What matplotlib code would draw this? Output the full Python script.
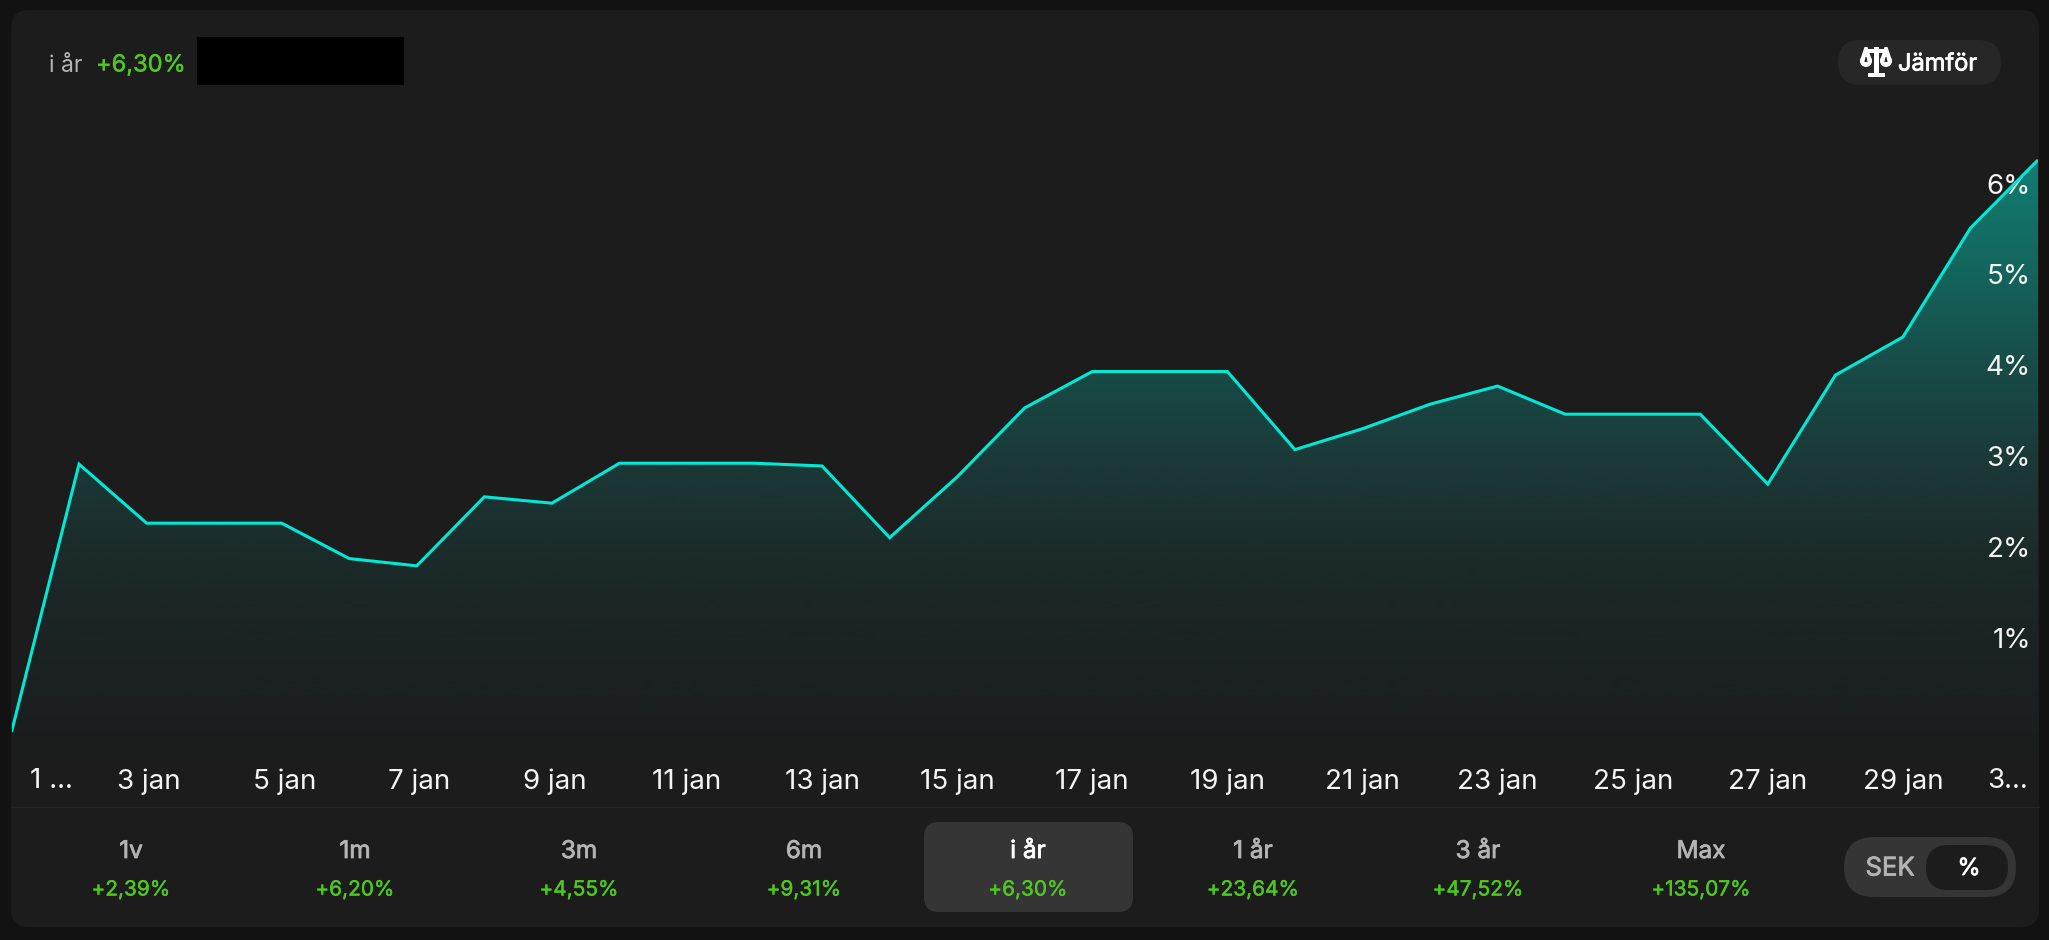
import numpy as np
import matplotlib
matplotlib.use("Agg")
import matplotlib.pyplot as plt
import matplotlib.patheffects as pe
from matplotlib.patches import FancyBboxPatch, Rectangle, Polygon, Circle
from matplotlib.transforms import ScaledTranslation

plt.rcParams['font.family'] = ['Inter', 'DejaVu Sans']

# ---- data ----
days = list(range(1, 32))
values = [0.00, 2.95, 2.30, 2.30, 2.30, 1.91, 1.83, 2.59, 2.52, 2.96, 2.96, 2.96, 2.93,
          2.14, 2.81, 3.57, 3.97, 3.97, 3.97, 3.11, 3.34, 3.61, 3.81, 3.50, 3.50, 3.50,
          2.73, 3.93, 4.35, 5.55, 6.30]
x_tick_days = [1, 3, 5, 7, 9, 11, 13, 15, 17, 19, 21, 23, 25, 27, 29, 31]
x_tick_labels = ["1 ...", "3 jan", "5 jan", "7 jan", "9 jan", "11 jan", "13 jan", "15 jan", "17 jan",
                 "19 jan", "21 jan", "23 jan", "25 jan", "27 jan", "29 jan", "3..."]
y_ticks = [1, 2, 3, 4, 5, 6]
y_tick_labels = ["1%", "2%", "3%", "4%", "5%", "6%"]
periods = ["1v", "1m", "3m", "6m", "i år", "1 år", "3 år", "Max"]
period_returns = ["+2,39%", "+6,20%", "+4,55%", "+9,31%", "+6,30%", "+23,64%", "+47,52%", "+135,07%"]
selected_period = "i år"
headline_label = "i år"
headline_return = "+6,30%"

# ---- style ----
W, H = 2049, 940
OUTER = "#121212"; PANEL = "#1c1c1c"; LINE = "#00e9d6"; GREEN = "#4ec91f"
GREY = "#b4b4b4"; WHITE = "#f4f4f4"

fig = plt.figure(figsize=(W / 100, H / 100), dpi=100, facecolor=OUTER)


def px_axes(left, top, right, bottom, **kw):
    return fig.add_axes([left / W, 1 - bottom / H, (right - left) / W, (bottom - top) / H], **kw)


ui = px_axes(0, 0, W, H, zorder=0)
ui.set_xlim(0, W); ui.set_ylim(H, 0); ui.axis("off")


def rrect(ax, x0, y0, x1, y1, r, color, z=1):
    ax.add_patch(FancyBboxPatch((x0 + r, y0 + r), x1 - x0 - 2 * r, y1 - y0 - 2 * r,
                                boxstyle=f"round,pad={r},rounding_size={r}",
                                fc=color, ec="none", zorder=z))


def bold_text(x, y, s, color, size, stroke=0.55, **kw):
    t = ui.text(x, y, s, color=color, fontsize=size, va="center", **kw)
    t.set_path_effects([pe.withStroke(linewidth=stroke, foreground=color)])
    return t


rrect(ui, 11, 10, 2039, 927, 18, PANEL)
ui.plot([11, 2039], [806.5, 806.5], color="#262626", lw=1, zorder=2)

# header
ui.text(49, 65.5, headline_label, color=GREY, fontsize=16.5, va="center", ha="left")
bold_text(96, 65.5, headline_return, GREEN, 17, stroke=0.3, ha="left")
ui.add_patch(Rectangle((197, 37), 207, 48, fc="black", ec="none", zorder=2))

# compare button
rrect(ui, 1838, 40, 2001, 85, 22.5, "#272727", 2)
bold_text(1898, 64.5, "Jämför", "white", 17, ha="left", zorder=3)
# scales icon
ic = dict(fc="white", ec="none", zorder=3)
ui.add_patch(Rectangle((1873.5, 47), 5, 28, **ic))
ui.add_patch(Rectangle((1868, 72.5), 16.5, 4.5, **ic))
ui.add_patch(Rectangle((1864, 48.5), 24, 4, **ic))
for cx in (1866, 1886):
    ui.add_patch(Polygon([(cx - 1.5, 47), (cx + 1.5, 47), (cx + 5.8, 60), (cx - 5.8, 60)], **ic))
    ui.add_patch(Circle((cx, 61), 6, **ic))
    ui.add_patch(Polygon([(cx - 0.5, 57), (cx + 0.5, 57), (cx + 1.6, 62), (cx - 1.6, 62)], fc="#272727", ec="none", zorder=3))

# period selector
col_x = [131, 355, 579, 804, 1028, 1253, 1478, 1701]
rrect(ui, 924, 822, 1133, 912, 15, "#353535", 2)
for cx, p, r in zip(col_x, periods, period_returns):
    sel = p == selected_period
    bold_text(cx, 851.5, p, "white" if sel else GREY, 17.5, ha="center", zorder=3)
    bold_text(cx, 889.5, r, GREEN, 15, stroke=0.3, ha="center", zorder=3)

# toggle
rrect(ui, 1844, 837, 2016, 897, 30, "#353535", 2)
rrect(ui, 1926, 845, 2008, 890, 22.5, "#1c1c1c", 3)
bold_text(1890, 869, "SEK", GREY, 18.5, ha="center", zorder=4)
bold_text(1969, 869, "%", "white", 17, ha="center", zorder=4)

# ---- chart ----
ZERO_Y, UNIT = 732.0, 90.8
TOP_Y, BOT_Y = 100.0, 760.0
ax = px_axes(11.5, TOP_Y, 2038, BOT_Y, zorder=1)
ax.patch.set_alpha(0)
ymax = (ZERO_Y - TOP_Y) / UNIT
ymin = (ZERO_Y - BOT_Y) / UNIT
ax.set_xlim(1, 31); ax.set_ylim(ymin, ymax)
for s in ax.spines.values():
    s.set_visible(False)

# gradient fill
stop_px = [100, 160, 275, 365, 456, 548, 640, 733, 765]
stop_rgb = np.array([(18, 135, 124), (17, 125, 115), (20, 100, 92), (24, 76, 72), (27, 58, 56),
                     (27, 44, 43), (27, 35, 35), (27, 30, 30), (28, 28, 28)]) / 255
py = np.arange(TOP_Y, BOT_Y + 1)
grad = np.stack([np.interp(py, stop_px, stop_rgb[:, i]) for i in range(3)], axis=1)[:, None, :]
im = ax.imshow(grad, extent=[1, 31, ymin, ymax], aspect="auto", origin="upper", zorder=1, interpolation="bilinear")
poly = ax.fill_between(days, values, ymin, color="none", lw=0)
im.set_clip_path(poly.get_paths()[0], transform=ax.transData)
ax.plot(days, values, color=LINE, lw=2.2, zorder=3, solid_joinstyle="miter", solid_capstyle="butt", clip_on=True)

# axes ticks
ax.yaxis.tick_right()
ax.set_yticks(y_ticks, y_tick_labels)
ax.tick_params(axis="y", length=0, pad=-5, labelsize=20, labelcolor=WHITE)
up = ScaledTranslation(0, 3.5 / 100, fig.dpi_scale_trans)
for lab in ax.get_yticklabels():
    lab.set_ha("right"); lab.set_zorder(2)
    lab.set_transform(lab.get_transform() + up)

ax.set_xticks(x_tick_days, x_tick_labels)
ax.tick_params(axis="x", length=0, pad=6, labelsize=20, labelcolor=WHITE)
for i, (lab, txt) in enumerate(zip(ax.get_xticklabels(), x_tick_labels)):
    if i == 0:
        dx = 40
    elif i == len(x_tick_days) - 1:
        dx = -30
    else:
        dx = 2.5 if len(txt) == 5 else 0
    lab.set_transform(lab.get_transform() + ScaledTranslation(dx / 100, 0, fig.dpi_scale_trans))

fig.savefig("out.png", dpi=100, facecolor=OUTER)
